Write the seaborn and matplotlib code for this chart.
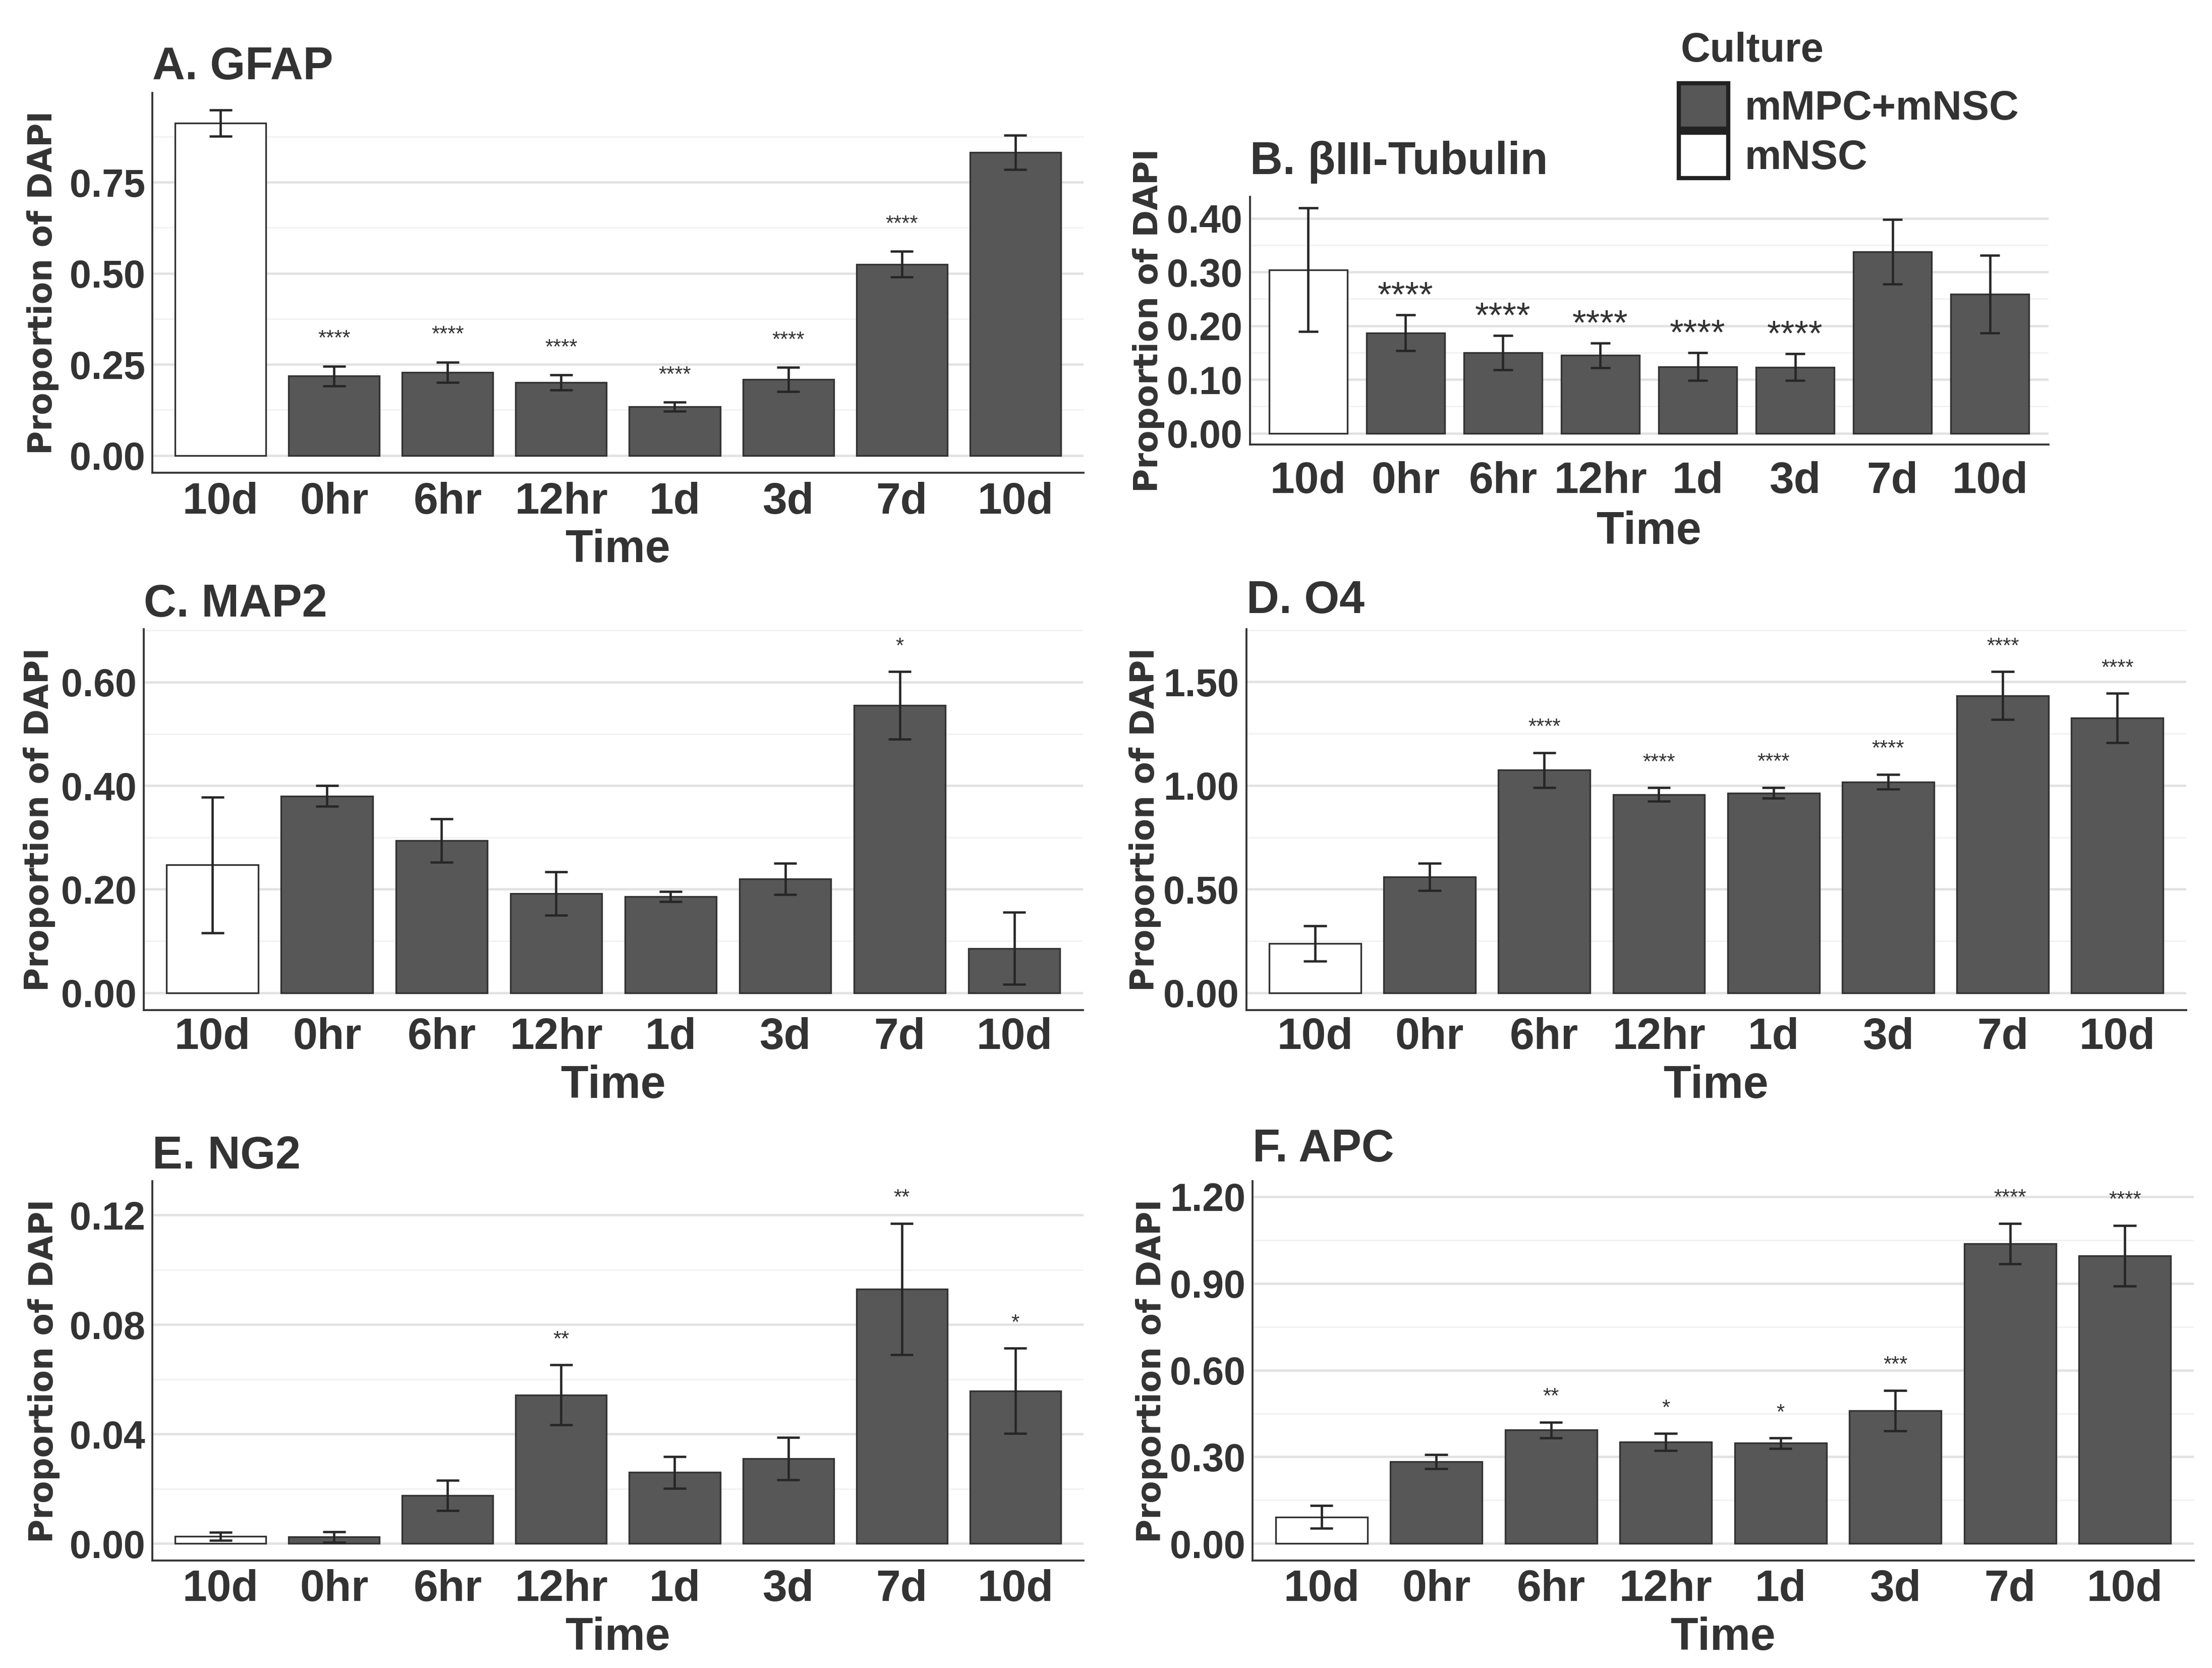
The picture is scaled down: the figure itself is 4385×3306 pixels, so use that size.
import matplotlib
matplotlib.use("Agg")
import matplotlib.pyplot as plt
from matplotlib.patches import Patch
from matplotlib.ticker import MultipleLocator, FormatStrFormatter
import numpy as np
import pandas as pd
import seaborn as sns

# ---- data ---------------------------------------------------------------
time_labels = ["10d", "0hr", "6hr", "12hr", "1d", "3d", "7d", "10d"]
culture = ["mNSC"] + ["mMPC+mNSC"] * 7
culture_order = ["mMPC+mNSC", "mNSC"]

gfap_mean = [0.912, 0.218, 0.228, 0.200, 0.134, 0.209, 0.525, 0.832]
gfap_se = [0.036, 0.027, 0.028, 0.021, 0.012, 0.033, 0.035, 0.047]
gfap_sig = ["", "****", "****", "****", "****", "****", "****", ""]

tub_mean = [0.304, 0.187, 0.150, 0.145, 0.124, 0.123, 0.338, 0.259]
tub_se = [0.115, 0.033, 0.032, 0.023, 0.026, 0.025, 0.060, 0.072]
tub_sig = ["", "****", "****", "****", "****", "****", "", ""]

map2_mean = [0.247, 0.380, 0.294, 0.192, 0.186, 0.220, 0.555, 0.086]
map2_se = [0.131, 0.020, 0.042, 0.042, 0.010, 0.030, 0.065, 0.070]
map2_sig = ["", "", "", "", "", "", "*", ""]

o4_mean = [0.238, 0.560, 1.075, 0.957, 0.964, 1.018, 1.434, 1.325]
o4_se = [0.085, 0.066, 0.084, 0.032, 0.026, 0.035, 0.115, 0.119]
o4_sig = ["", "", "****", "****", "****", "****", "****", "****"]

ng2_mean = [0.0026, 0.0024, 0.0176, 0.0543, 0.0260, 0.0310, 0.0930, 0.0558]
ng2_se = [0.0015, 0.0019, 0.0055, 0.0110, 0.0058, 0.0078, 0.0240, 0.0156]
ng2_sig = ["", "", "", "**", "", "", "**", "*"]

apc_mean = [0.092, 0.283, 0.393, 0.351, 0.347, 0.460, 1.038, 0.996]
apc_se = [0.040, 0.024, 0.027, 0.030, 0.018, 0.070, 0.070, 0.105]
apc_sig = ["", "", "**", "*", "*", "***", "****", "****"]

# ---- style ---------------------------------------------------------------
sns.set_style("white")
plt.rcParams["font.family"] = ["Liberation Sans", "DejaVu Sans"]

DARK = "#575757"
EDGE = "#333333"
TEXT = "#333333"
palette = {"mMPC+mNSC": DARK, "mNSC": "white"}


def draw_panel(fig, rect, title, mean, se, sig, step, star_size,
               title_pad, xtick_pad, xlabel_pad, ylabel_pad):
    ax = fig.add_axes(rect)
    keys = [f"{t}_{c}" for t, c in zip(time_labels, culture)]
    df = pd.DataFrame({"key": keys, "Culture": culture, "mean": mean})

    sns.barplot(data=df, x="key", y="mean", hue="Culture", order=keys,
                hue_order=culture_order, palette=palette, dodge=False,
                width=0.8, edgecolor=EDGE, linewidth=0.8, legend=False,
                errorbar=None, ax=ax, zorder=2)

    x = np.arange(len(mean))
    lo = np.array(mean) - np.array(se)
    hi = np.array(mean) + np.array(se)
    ax.vlines(x, lo, hi, color="#262626", lw=1.1, zorder=3)
    ax.hlines(lo, x - 0.1, x + 0.1, color="#262626", lw=1.1, zorder=3)
    ax.hlines(hi, x - 0.1, x + 0.1, color="#262626", lw=1.1, zorder=3)

    # significance marks sit a little above each error bar
    top = hi.max()
    star_y = hi + 0.078 * top
    ymax = top
    for xi, yi, s in zip(x, star_y, sig):
        if s:
            ax.text(xi, yi, s, ha="center", va="center", fontsize=star_size,
                    color=TEXT, zorder=4)
            ymax = max(ymax, yi)

    ax.set_ylim(-0.05 * ymax, 1.05 * ymax)
    ax.set_xlim(-0.6, len(mean) - 0.4)

    ax.yaxis.set_major_locator(MultipleLocator(step))
    ax.yaxis.set_minor_locator(MultipleLocator(step / 2))
    ax.yaxis.set_major_formatter(FormatStrFormatter("%.2f"))
    ax.set_axisbelow(True)
    ax.grid(axis="y", which="major", color="#E2E2E2", lw=1.1)
    ax.grid(axis="y", which="minor", color="#F2F2F2", lw=0.7)
    ax.grid(axis="x", visible=False)

    for side in ["top", "right"]:
        ax.spines[side].set_visible(False)
    for side in ["left", "bottom"]:
        ax.spines[side].set_color(EDGE)
        ax.spines[side].set_linewidth(0.9)

    ax.set_xticks(x)
    ax.set_xticklabels(time_labels, fontsize=21, fontweight="bold", color=TEXT)
    for lab in ax.get_yticklabels():
        lab.set_fontsize(18.5)
        lab.set_fontweight("bold")
        lab.set_color(TEXT)
    ax.tick_params(axis="both", which="both", length=0)
    ax.tick_params(axis="x", pad=xtick_pad)
    ax.tick_params(axis="y", pad=3.5)

    ax.set_xlabel("Time", fontsize=21.5, fontweight="bold", color=TEXT,
                  labelpad=xlabel_pad)
    ax.set_ylabel("Proportion of DAPI", fontsize=15.5, fontweight="bold",
                  color=TEXT, family="DejaVu Sans", labelpad=ylabel_pad)
    ax.set_title(title, loc="left", fontsize=21.5, fontweight="bold",
                 color=TEXT, pad=title_pad)
    return ax


fig = plt.figure(figsize=(4385 / 300, 3306 / 300), dpi=300)

draw_panel(fig, [0.0689, 0.7166, 0.4209, 0.2278], "A. GFAP",
           gfap_mean, gfap_se, gfap_sig, 0.25, 10,
           title_pad=6.5, xtick_pad=4.3, xlabel_pad=3, ylabel_pad=5)
draw_panel(fig, [0.5650, 0.7335, 0.3610, 0.1485], "B. \u03b2III-Tubulin",
           tub_mean, tub_se, tub_sig, 0.10, 17,
           title_pad=10.9, xtick_pad=8, xlabel_pad=4, ylabel_pad=1)
draw_panel(fig, [0.0650, 0.3944, 0.4246, 0.2283], "C. MAP2",
           map2_mean, map2_se, map2_sig, 0.20, 10,
           title_pad=6, xtick_pad=3.4, xlabel_pad=3, ylabel_pad=2.5)
draw_panel(fig, [0.5634, 0.3944, 0.4249, 0.2283], "D. O4",
           o4_mean, o4_se, o4_sig, 0.50, 10,
           title_pad=7.7, xtick_pad=3.4, xlabel_pad=3, ylabel_pad=1)
draw_panel(fig, [0.0689, 0.0643, 0.4209, 0.2276], "E. NG2",
           ng2_mean, ng2_se, ng2_sig, 0.04, 10,
           title_pad=6, xtick_pad=4, xlabel_pad=3, ylabel_pad=4.5)
draw_panel(fig, [0.5663, 0.0643, 0.4254, 0.2276], "F. APC",
           apc_mean, apc_se, apc_sig, 0.30, 10,
           title_pad=9.4, xtick_pad=4, xlabel_pad=3, ylabel_pad=1)

# legend in the top right corner
fig.text(0.7597, 0.981, "Culture", fontsize=19.5, fontweight="bold",
         color=TEXT, ha="left", va="top")
handles = [Patch(facecolor=palette[c], edgecolor="#222222", linewidth=2.0)
           for c in culture_order]
leg = fig.legend(handles, culture_order, loc="upper left",
                 bbox_to_anchor=(0.759, 0.950), frameon=False,
                 fontsize=19.5, handlelength=1.2, handleheight=1.32,
                 handletextpad=0.4, labelspacing=0.1, borderpad=0,
                 borderaxespad=0)
for t in leg.get_texts():
    t.set_fontweight("bold")
    t.set_color(TEXT)

fig.savefig("out.png", dpi=300)
